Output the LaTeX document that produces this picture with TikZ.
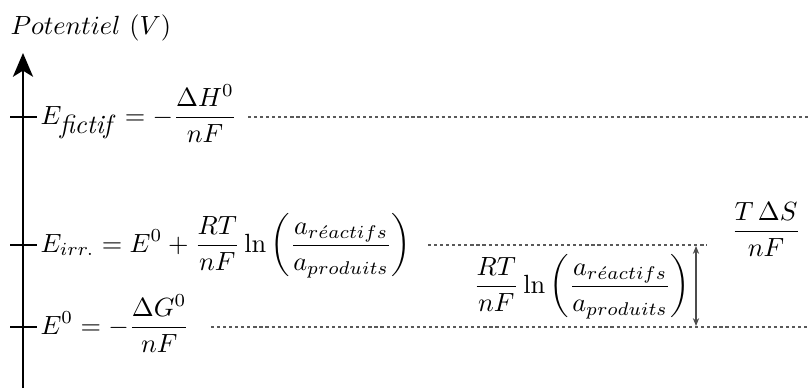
\documentclass[tikz,border=0pt]{standalone}
\usetikzlibrary{arrows.meta}
\begin{document}
\begin{tikzpicture}[x=0.38pt,y=-0.38pt,
  axisline/.style={line width=1.1pt,black},
  tickline/.style={line width=1.1pt,black},
  level/.style={draw=black!65,line width=0.45pt,dash pattern=on 1.2pt off 1.1pt},
  gap/.style={draw=black!70,line width=0.45pt,{Stealth[length=3pt,width=2.4pt]}-{Stealth[length=3pt,width=2.4pt]}},
  lbl/.style={inner sep=0pt,anchor=base west},
  lblc/.style={inner sep=0pt,anchor=base}]
\useasboundingbox (0,0) rectangle (810,388);
% axis
\coordinate (bot) at (23,388);
\coordinate (top) at (23,53);
\draw[axisline,-{Stealth[length=9pt,width=7.6pt,inset=2.3pt]}] (bot) -- (top);
\node[lbl] (title) at (10,35) {$Potentiel~(V)$};
% ticks
\coordinate (tfl) at (10,117); \coordinate (tfr) at (37,117);
\coordinate (til) at (10,245); \coordinate (tir) at (37,245);
\coordinate (tel) at (10,327); \coordinate (ter) at (37,327);
\draw[tickline] (tfl) -- (tfr);
\draw[tickline] (til) -- (tir);
\draw[tickline] (tel) -- (ter);
% labels
\node[lbl] (efict) at (40,124) {$\displaystyle E_{\textit{fictif}}\, = -\frac{\Delta H^0}{nF}$};
\node[lbl] (eirr) at (40,252) {$\displaystyle E_{irr.} = E^0 + \frac{RT}{nF}\ln\left(\frac{a_{r\acute{e}actifs}}{a_{produits}}\right)$};
\node[lbl] (ezero) at (40,334) {$\displaystyle E^0 = -\frac{\Delta G^0}{nF}$};
\node[lbl] (diff) at (473,293) {$\displaystyle \frac{RT}{nF}\ln\left(\frac{a_{r\acute{e}actifs}}{a_{produits}}\right)$};
\node[lblc] (tds) at (766,238) {$\displaystyle \frac{T\,\Delta S}{nF}$};
% level lines
\coordinate (fa) at (248,117); \coordinate (fb) at (808,117);
\coordinate (ia) at (428,245); \coordinate (ib) at (707,245);
\coordinate (za) at (211,327); \coordinate (zb) at (810,327);
\draw[level] (fa) -- (fb);
\draw[level] (ia) -- (ib);
\draw[level] (za) -- (zb);
% gap arrow
\coordinate (ga) at (696,246); \coordinate (gb) at (696,326);
\draw[gap] (ga) -- (gb);
\end{tikzpicture}
\end{document}
